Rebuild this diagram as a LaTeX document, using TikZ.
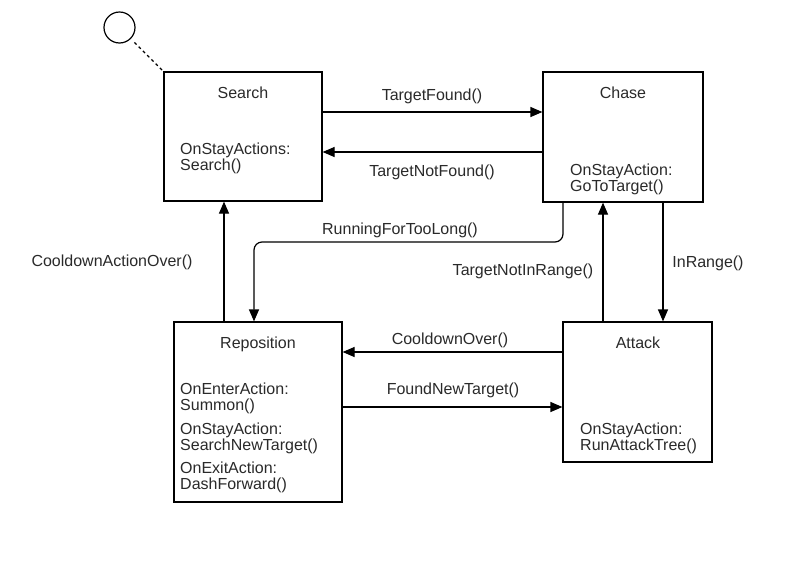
\documentclass[tikz,border=0pt]{standalone}
\usepackage{fontspec}
\setmainfont{Liberation Sans}
\usetikzlibrary{arrows.meta}
\definecolor{txt}{HTML}{2a2a2a}
\begin{document}
\begin{tikzpicture}[x=1pt,y=-1pt,
  state/.style={draw=black,line width=1.2pt,fill=white,inner sep=0pt},
  lbl/.style={inner sep=0pt,text=txt,font=\fontsize{16}{16}\selectfont},
  title/.style={lbl,anchor=base},
  body/.style={lbl,anchor=base west},
  arr/.style={line width=1.2pt,-{Triangle[length=12pt,width=10pt]}}]
\useasboundingbox[fill=white] (0,0) rectangle (792,571);
% states
\node[state,minimum width=158pt,minimum height=129pt] (search) at (243,136.5) {};
\node[state,minimum width=160pt,minimum height=130pt] (chase) at (623,137) {};
\node[state,minimum width=168pt,minimum height=180pt] (repo) at (258,412) {};
\node[state,minimum width=149pt,minimum height=140pt] (attack) at (637.5,392) {};
\node[draw=black,line width=1.2pt,circle,minimum size=31pt,inner sep=0pt] (start) at (119.5,27.5) {};
% state texts
\node[title] (searcht) at (243,98) {Search};
\node[body] (searchb1) at (180,154) {OnStayActions:};
\node[body] (searchb2) at (180,170) {Search()};
\node[title] (chaset) at (623,98) {Chase};
\node[body] (chaseb1) at (570,175) {OnStayAction:};
\node[body] (chaseb2) at (570,191) {GoToTarget()};
\node[title] (repot) at (258,348) {Reposition};
\node[body] (repob1) at (180,394) {OnEnterAction:};
\node[body] (repob2) at (180,410) {Summon()};
\node[body] (repob3) at (180,434) {OnStayAction:};
\node[body] (repob4) at (180,450) {SearchNewTarget()};
\node[body] (repob5) at (180,473) {OnExitAction:};
\node[body] (repob6) at (180,489) {DashForward()};
\node[title] (attackt) at (638,348) {Attack};
\node[body] (attackb1) at (580,434) {OnStayAction:};
\node[body] (attackb2) at (580,450) {RunAttackTree()};
% helper coordinates
\coordinate (ytf) at (0,112);
\coordinate (ytnf) at (0,152);
\coordinate (yco) at (0,352);
\coordinate (yfnt) at (0,407);
\coordinate (xcao) at (224,0);
\coordinate (xtnir) at (603,0);
\coordinate (xir) at (663,0);
\coordinate (xr1) at (563,0);
\coordinate (yr2) at (0,242);
\coordinate (xr3) at (254,0);
% connectors
\draw[line width=1.2pt,dash pattern=on 3pt off 3pt,shorten <=5pt] (start) -- (search.north west);
\draw[arr] (search.east |- ytf) -- (chase.west |- ytf);
\draw[arr] (chase.west |- ytnf) -- (search.east |- ytnf);
\draw[arr,rounded corners=8pt] (chase.south -| xr1) -- (xr1 |- yr2) -- (xr3 |- yr2) -- (repo.north -| xr3);
\draw[arr] (repo.north -| xcao) -- (search.south -| xcao);
\draw[arr] (attack.north -| xtnir) -- (chase.south -| xtnir);
\draw[arr] (chase.south -| xir) -- (attack.north -| xir);
\draw[arr] (attack.west |- yco) -- (repo.east |- yco);
\draw[arr] (repo.east |- yfnt) -- (attack.west |- yfnt);
% connector labels
\node[title] (ltf) at (432,100) {TargetFound()};
\node[title] (ltnf) at (432,176) {TargetNotFound()};
\node[title] (lrftl) at (400,234) {RunningForTooLong()};
\node[title] (lcao) at (112,266) {CooldownActionOver()};
\node[title] (ltnir) at (523,275) {TargetNotInRange()};
\node[title] (lir) at (708,267) {InRange()};
\node[title] (lco) at (450,344) {CooldownOver()};
\node[title] (lfnt) at (453,394) {FoundNewTarget()};
\end{tikzpicture}
\end{document}
